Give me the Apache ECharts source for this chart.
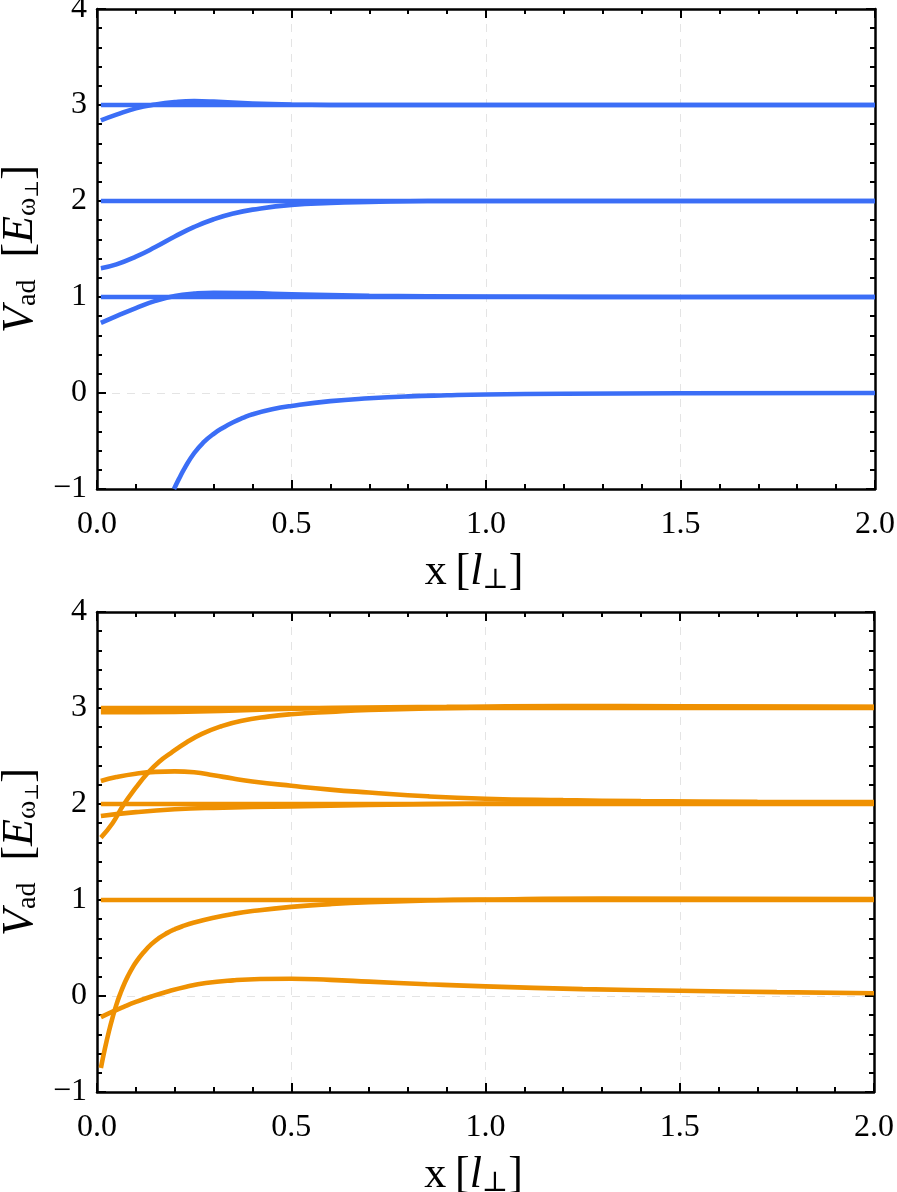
<!DOCTYPE html>
<html>
<head>
<meta charset="utf-8">
<script src="https://cdn.jsdelivr.net/npm/echarts@6/dist/echarts.min.js"></script>
<style>
  html, body { margin: 0; padding: 0; background: #fff; }
  #chart { width: 897px; height: 1192px; }
</style>
</head>
<body>
<div id="chart"></div>
<script>
// axis ranges
const xRange = [0, 2];
const yRange = [-1, 4];

// top panel (blue) curves, [x, V_ad]
const topFlat3 = [[0.01, 3], [2.0, 3]];
const topRise3 = [[0.01, 2.84], [0.05, 2.9], [0.1, 2.965], [0.15, 3.005], [0.2, 3.03], [0.25, 3.04],
  [0.3, 3.035], [0.4, 3.015], [0.5, 3.005], [0.7, 3.0], [1.0, 3.0], [2.0, 3.0]];
const topFlat2 = [[0.01, 2], [2.0, 2]];
const topRise2 = [[0.01, 1.3], [0.05, 1.34], [0.1, 1.42], [0.15, 1.52], [0.2, 1.63], [0.25, 1.73],
  [0.3, 1.81], [0.35, 1.87], [0.4, 1.91], [0.5, 1.96], [0.6, 1.98], [0.7, 1.99], [0.85, 2.0], [1.0, 2.0], [2.0, 2.0]];
const topFlat1 = [[0.01, 1], [2.0, 1]];
const topRise1 = [[0.01, 0.73], [0.05, 0.8], [0.1, 0.885], [0.15, 0.96], [0.2, 1.01], [0.25, 1.035],
  [0.3, 1.045], [0.4, 1.04], [0.5, 1.028], [0.7, 1.012], [1.0, 1.005], [1.5, 1.0], [2.0, 1.0]];
const topRise0 = [[0.198, -1.0], [0.21, -0.9], [0.225, -0.785], [0.25, -0.625], [0.275, -0.51], [0.3, -0.425],
  [0.325, -0.36], [0.35, -0.305], [0.375, -0.26], [0.4, -0.222], [0.45, -0.17], [0.5, -0.135], [0.6, -0.085],
  [0.7, -0.055], [0.8, -0.035], [0.9, -0.024], [1.0, -0.016], [1.2, -0.008], [1.5, -0.003], [2.0, 0]];

// bottom panel (orange) curves
const botFlat3 = [[0.01, 3.0], [2.0, 3.0]];
const botNear3 = [[0.01, 2.955], [0.2, 2.96], [0.4, 2.98], [0.6, 3.0], [0.9, 3.012], [1.2, 3.02], [1.5, 3.018], [2.0, 3.012]];
const botSteep3 = [[0.01, 1.65], [0.04, 1.8], [0.068, 1.99], [0.1, 2.17], [0.13, 2.32], [0.16, 2.44], [0.19, 2.53],
  [0.23, 2.64], [0.27, 2.73], [0.32, 2.81], [0.37, 2.865], [0.44, 2.91], [0.5, 2.935], [0.6, 2.96], [0.7, 2.98],
  [0.85, 2.995], [1.0, 3.005], [1.3, 3.015], [2.0, 3.01]];
const botHump2 = [[0.01, 2.24], [0.05, 2.28], [0.1, 2.315], [0.15, 2.335], [0.2, 2.34], [0.25, 2.33], [0.3, 2.3],
  [0.35, 2.265], [0.4, 2.235], [0.5, 2.19], [0.6, 2.15], [0.7, 2.12], [0.85, 2.08], [1.0, 2.055], [1.2, 2.04],
  [1.4, 2.03], [1.7, 2.022], [2.0, 2.02]];
const botFlat2 = [[0.01, 2.0], [2.0, 2.0]];
const botNear2 = [[0.01, 1.875], [0.1, 1.915], [0.2, 1.945], [0.3, 1.96], [0.5, 1.975], [0.7, 1.99], [1.0, 2.005],
  [1.3, 2.015], [2.0, 2.015]];
const botFlat1 = [[0.01, 1.0], [2.0, 1.0]];
const botSteep1 = [[0.01, -0.75], [0.02, -0.555], [0.03, -0.38], [0.04, -0.225], [0.05, -0.09], [0.06, 0.025],
  [0.07, 0.125], [0.08, 0.21], [0.09, 0.285], [0.1, 0.35], [0.12, 0.455], [0.14, 0.54], [0.16, 0.605],
  [0.18, 0.655], [0.2, 0.695], [0.22, 0.727], [0.25, 0.765], [0.3, 0.815], [0.35, 0.855], [0.4, 0.885],
  [0.5, 0.928], [0.6, 0.957], [0.7, 0.977], [0.85, 0.995], [1.0, 1.005], [1.3, 1.015], [2.0, 1.01]];
const botHump0 = [[0.01, -0.22], [0.04, -0.162], [0.07, -0.11], [0.1, -0.062], [0.14, -0.005], [0.18, 0.045],
  [0.23, 0.097], [0.28, 0.135], [0.35, 0.163], [0.42, 0.177], [0.5, 0.18], [0.6, 0.168], [0.7, 0.15], [0.85, 0.123],
  [1.0, 0.1], [1.25, 0.072], [1.5, 0.055], [1.75, 0.04], [2.0, 0.028]];

const topCurves = [topFlat3, topRise3, topFlat2, topRise2, topFlat1, topRise1, topRise0];
const botCurves = [botFlat3, botNear3, botSteep3, botHump2, botFlat2, botNear2, botFlat1, botSteep1, botHump0];

const BLUE = '#3b6ef6';
const ORANGE = '#ef9102';
const FONT = '"Liberation Serif", "DejaVu Serif", serif';

const grids = [
  { left: 97, top: 9, width: 778, height: 480, containLabel: false, outerBoundsMode: 'none' },
  { left: 97, top: 612, width: 777, height: 480, containLabel: false, outerBoundsMode: 'none' }
];

const fmt = v => String(v).replace('-', '\u2212');

function xAxisFor(gridIndex, main) {
  return {
    type: 'value', gridIndex, min: xRange[0], max: xRange[1], interval: 0.5,
    position: main ? 'bottom' : 'top',
    name: main ? '{r|x\u2009[}{i|l}{s|\u22a5}{r|]}' : '',
    nameLocation: 'middle', nameGap: 60,
    nameTextStyle: {
      padding: [0, 24, 0, 0],
      rich: {
        r: { fontFamily: FONT, fontSize: 44, color: '#000', lineHeight: 46 },
        i: { fontFamily: FONT, fontSize: 44, fontStyle: 'italic', color: '#000', lineHeight: 46 },
        s: { fontFamily: FONT, fontSize: 28, color: '#000', verticalAlign: 'bottom', lineHeight: 24 }
      }
    },
    axisLine: { show: true, onZero: false, lineStyle: { color: '#000', width: 2.5 } },
    axisTick: { show: true, inside: true, length: 9, lineStyle: { color: '#000', width: 2 } },
    minorTick: { show: true, splitNumber: 5, length: 5, lineStyle: { color: '#000', width: 2 } },
    axisLabel: {
      show: main, margin: 20, color: '#000', fontFamily: FONT, fontSize: 32,
      formatter: v => v.toFixed(1)
    },
    splitLine: { show: main, lineStyle: { color: '#e4e4e4', type: [8, 7], width: 1 } }
  };
}

function yAxisFor(gridIndex, main) {
  return {
    type: 'value', gridIndex, min: yRange[0], max: yRange[1], interval: 1,
    position: main ? 'left' : 'right',
    name: main ? '{i|V}{s|ad}{r|\u2002[}{i|E}{s|\u03c9}{ss|\u22a5}{r|]}' : '',
    nameLocation: 'middle', nameGap: 40, nameRotate: 90,
    nameTextStyle: {
      rich: {
        r: { fontFamily: FONT, fontSize: 44, color: '#000', lineHeight: 44 },
        i: { fontFamily: FONT, fontSize: 44, fontStyle: 'italic', color: '#000', lineHeight: 44 },
        s: { fontFamily: FONT, fontSize: 28, color: '#000', verticalAlign: 'bottom', lineHeight: 26 },
        ss: { fontFamily: FONT, fontSize: 19, color: '#000', verticalAlign: 'bottom', lineHeight: 14 }
      }
    },
    axisLine: { show: true, onZero: false, lineStyle: { color: '#000', width: 2.5 } },
    axisTick: { show: true, inside: true, length: 9, lineStyle: { color: '#000', width: 2 } },
    minorTick: { show: true, splitNumber: 5, length: 5, lineStyle: { color: '#000', width: 2 } },
    axisLabel: {
      show: main, margin: 10, color: '#000', fontFamily: FONT, fontSize: 32,
      formatter: v => fmt(v)
    },
    splitLine: { show: main, lineStyle: { color: '#e4e4e4', type: [8, 7], width: 1 } }
  };
}

function lineSeries(data, color, axisIndex) {
  return {
    type: 'line', data, xAxisIndex: axisIndex, yAxisIndex: axisIndex,
    smooth: 0.5, showSymbol: false, symbol: 'none', clip: true,
    lineStyle: { color, width: 4.6 }, z: 3
  };
}

const series = [];
topCurves.forEach(c => series.push(lineSeries(c, BLUE, 0)));
botCurves.forEach(c => series.push(lineSeries(c, ORANGE, 2)));

const chart = echarts.init(document.getElementById('chart'), null, { renderer: 'canvas' });
chart.setOption({
  animation: false,
  backgroundColor: '#fff',
  grid: grids,
  xAxis: [xAxisFor(0, true), xAxisFor(0, false), xAxisFor(1, true), xAxisFor(1, false)],
  yAxis: [yAxisFor(0, true), yAxisFor(0, false), yAxisFor(1, true), yAxisFor(1, false)],
  series
});
</script>
</body>
</html>
